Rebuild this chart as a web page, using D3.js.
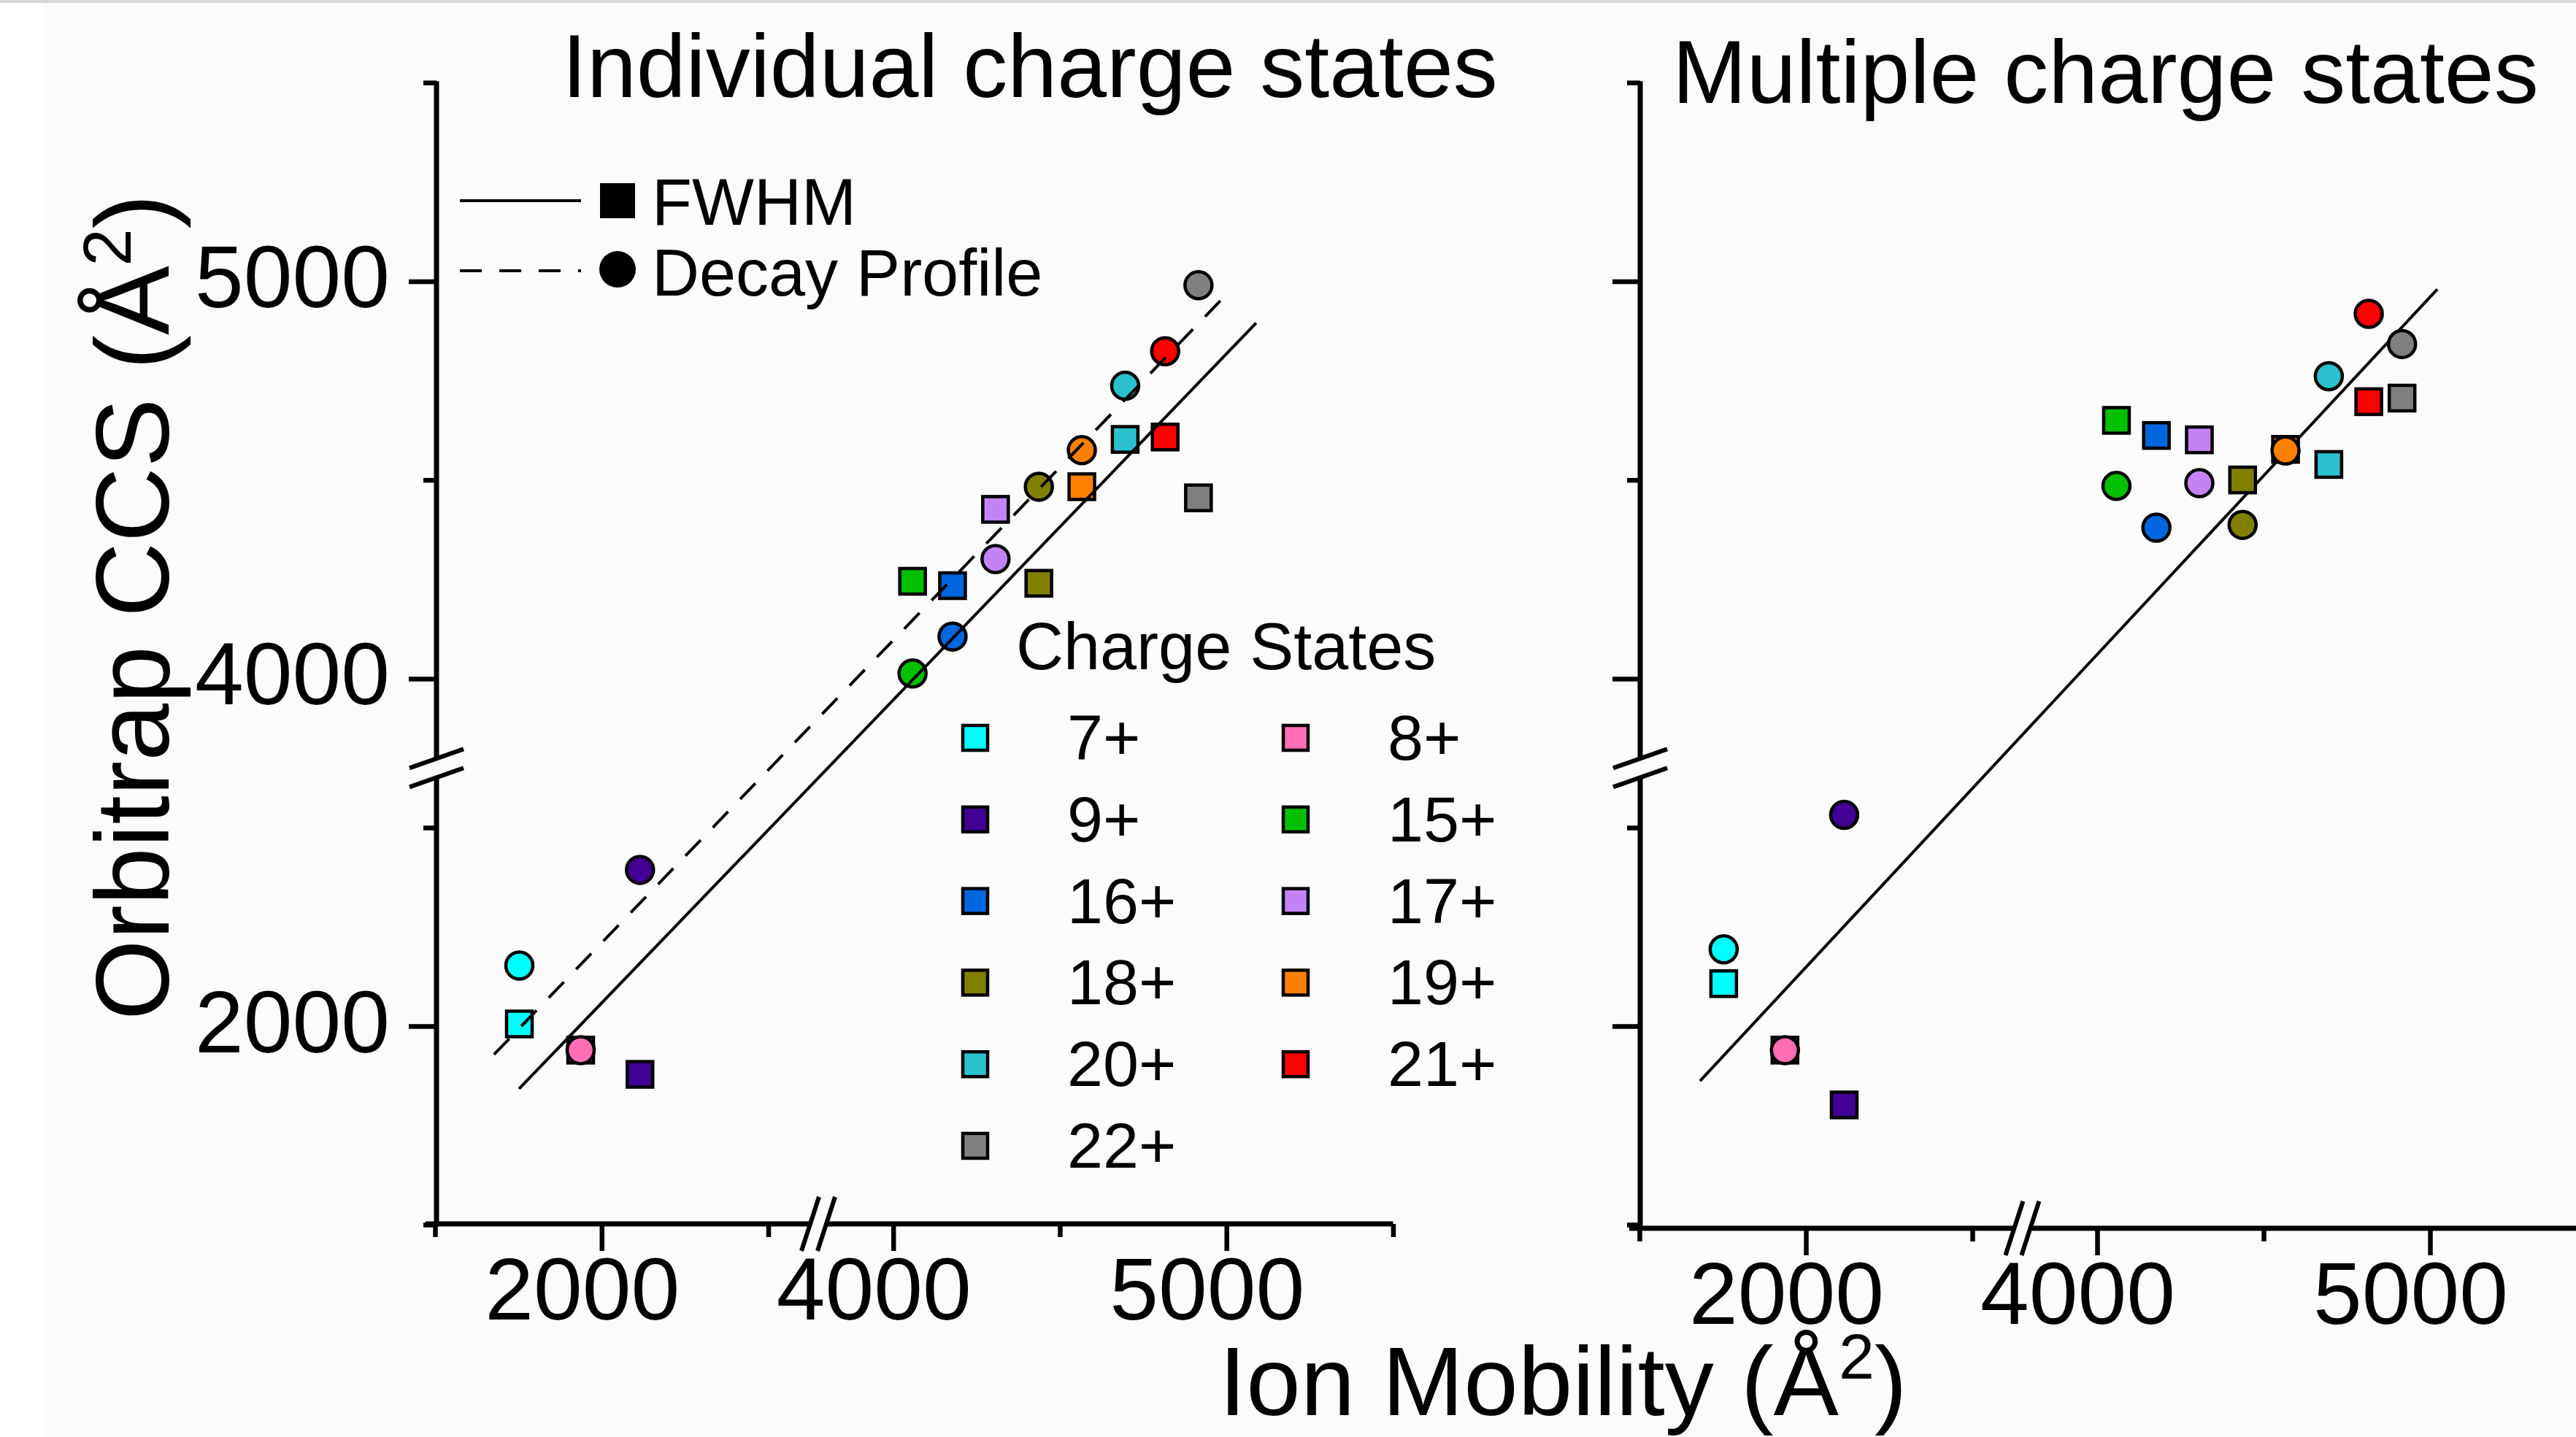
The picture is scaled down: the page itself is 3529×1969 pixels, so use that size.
<!DOCTYPE html>
<html>
<head>
<meta charset="utf-8">
<script src="https://cdn.jsdelivr.net/npm/d3@7"></script>
<style>
  html, body { margin: 0; padding: 0; background: #fff; }
  svg { display: block; font-family: "Liberation Sans", Arial, sans-serif; }
</style>
</head>
<body>
<svg id="chart" width="3529" height="1969"></svg>
<script>
// charge states and their colours (same in both panels)
var chargeStates = ["7+", "8+", "9+", "15+", "16+", "17+", "18+", "19+", "20+", "21+", "22+"];
var stateColors = ["#00ffff", "#ff6eb4", "#420094", "#00c000", "#0066dd", "#c383f5",
                   "#808000", "#ff8000", "#29c2cc", "#ff0000", "#808080"];

// ion mobility CCS (x), shared by all series
var ionMobility = [1753, 1937, 2115, 4058, 4178, 4307, 4437, 4566, 4696, 4816, 4916];

// orbitrap CCS (y)
var individualFwhm  = [2011, 1879, 1757, 4245, 4234, 4426, 4240, 4483, 4602, 4608, 4455];
var individualDecay = [2305, 1879, 2787, 4013, 4106, 4301, 4483, 4575, 4737, 4824, 4990];
var multipleFwhm    = [2214, 1879, 1603, 4650, 4612, 4601, 4500, 4577, 4539, 4697, 4706];
var multipleDecay   = [2387, 1879, 3064, 4485, 4380, 4492, 4387, 4574, 4761, 4918, 4842];

// fit lines, start and end points [ion mobility, orbitrap CCS]
var individualFwhmFit  = [[1752, 1684], [5089, 4895]];
var individualDecayFit = [[1677, 1857], [4991, 4959]];
var multipleFit        = [[1682, 1724], [5022, 4980]];

// axes
var xMajorTicks = [2000, 4000, 5000];
var xMinorTicks = [1500, 2500, 4500, 5500];
var yMajorTicks = [2000, 4000, 5000];
var yMinorTicks = [1000, 3000, 4500, 5500];
var xBreak = [2650, 3775];
var yBreak = [3300, 3775];

var W = 3529, H = 1969;
var svg = d3.select("svg#chart");

svg.append("rect").attr("width", W).attr("height", H).attr("fill", "#fbfbfb");
svg.append("rect").attr("width", 62).attr("height", H).attr("fill", "#ffffff");
svg.append("rect").attr("width", W).attr("height", 4).attr("fill", "#d6d6d6");

/* Broken linear scale: a lower and an upper d3 segment glued at the break.
   sign = 1 for x (grows right), -1 for y (grows up) */
function brokenScale(lo, hi, brk, start, kLo, kHi, sign){
  var sLo = d3.scaleLinear().domain([lo, brk[0]])
    .range([start, start + sign * (brk[0] - lo) * kLo]);
  var b = sLo(brk[0]);
  var sHi = d3.scaleLinear().domain([brk[1], hi])
    .range([b, b + sign * (hi - brk[1]) * kHi]);
  var s = function(v){ return v <= brk[0] ? sLo(v) : sHi(v); };
  s.lo = sLo;
  s.hi = sHi;
  s.breakPos = b;
  return s;
}

var yScale = brokenScale(1000, 5500, yBreak, 1678, 0.272, 0.5445, -1);

var panels = [
  {
    name: "individual",
    title: "Individual charge states", titleX: 770, titleY: 133,
    x: brokenScale(1500, 5500, xBreak, 596, 0.4565, 0.4565, 1),
    axisX: 598, axisY: 1677, yLabels: true,
    fwhm: individualFwhm, decay: individualDecay,
    fits: [{pts: individualFwhmFit, dash: null}, {pts: individualDecayFit, dash: "30,24"}],
    fitsOnTop: true
  },
  {
    name: "multiple",
    title: "Multiple charge states", titleX: 2291, titleY: 141,
    x: brokenScale(1500, 5500, xBreak, 2246, 0.456, 0.456, 1),
    axisX: 2247, axisY: 1683, yLabels: false,
    fwhm: multipleFwhm, decay: multipleDecay,
    fits: [{pts: multipleFit, dash: null}],
    fitsOnTop: false
  }
];

function styleAxis(sel, size){
  sel.select(".domain").remove();
  sel.attr("font-family", null).attr("font-size", size);
  sel.selectAll(".tick line").attr("stroke", "#000").attr("stroke-width", 6.5);
  sel.selectAll(".tick text").attr("fill", "#000");
}

function drawAxes(p){
  var g = svg.append("g").attr("class", "axes-" + p.name);
  var xEnd = p.x.hi.range()[1];
  var yTop = yScale.hi.range()[1];

  // x axis, one d3 axis per segment
  [p.x.lo, p.x.hi].forEach(function(seg){
    var dom = seg.domain();
    var inSeg = function(v){ return v >= dom[0] && v <= dom[1]; };
    g.append("g").attr("transform", "translate(0," + p.axisY + ")")
      .call(d3.axisBottom(seg).tickValues(xMinorTicks.filter(inSeg))
        .tickSize(18).tickSizeOuter(0).tickFormat(""))
      .call(styleAxis, 120);
    g.append("g").attr("transform", "translate(0," + p.axisY + ")")
      .call(d3.axisBottom(seg).tickValues(xMajorTicks.filter(inSeg))
        .tickSize(37).tickSizeOuter(0).tickFormat(d3.format("d")))
      .call(styleAxis, 120)
      .selectAll(".tick text")
        .attr("x", -27).attr("y", 131).attr("dy", null);
  });

  // y axis
  [yScale.lo, yScale.hi].forEach(function(seg){
    var dom = seg.domain();
    var inSeg = function(v){ return v >= dom[0] && v <= dom[1]; };
    g.append("g").attr("transform", "translate(" + p.axisX + ",0)")
      .call(d3.axisLeft(seg).tickValues(yMinorTicks.filter(inSeg))
        .tickSize(18).tickSizeOuter(0).tickFormat(""))
      .call(styleAxis, 120);
    g.append("g").attr("transform", "translate(" + p.axisX + ",0)")
      .call(d3.axisLeft(seg).tickValues(yMajorTicks.filter(inSeg))
        .tickSize(38).tickSizeOuter(0).tickFormat(p.yLabels ? d3.format("d") : ""))
      .call(styleAxis, 120)
      .selectAll(".tick text")
        .attr("x", -64).attr("y", 35).attr("dy", null);
  });

  // axis lines with a gap at the breaks
  var bx = p.x.breakPos, by = yScale.breakPos;
  var axisLines = [
    [p.axisX - 15, p.axisY, bx - 11, p.axisY],
    [bx + 11, p.axisY, xEnd, p.axisY],
    [p.axisX, p.axisY, p.axisX, by + 13],
    [p.axisX, by - 13, p.axisX, yTop - 2]
  ];
  g.selectAll("line.axisLine").data(axisLines).enter().append("line")
    .attr("class", "axisLine")
    .attr("x1", d => d[0]).attr("y1", d => d[1])
    .attr("x2", d => d[2]).attr("y2", d => d[3])
    .attr("stroke", "#000").attr("stroke-width", 7);

  // break marks
  var marks = [
    [bx - 11 + 12, p.axisY - 37, bx - 11 - 12, p.axisY + 37],
    [bx + 11 + 12, p.axisY - 37, bx + 11 - 12, p.axisY + 37],
    [p.axisX - 37, by - 13 + 13, p.axisX + 37, by - 13 - 13],
    [p.axisX - 37, by + 13 + 13, p.axisX + 37, by + 13 - 13]
  ];
  g.selectAll("line.breakMark").data(marks).enter().append("line")
    .attr("class", "breakMark")
    .attr("x1", d => d[0]).attr("y1", d => d[1])
    .attr("x2", d => d[2]).attr("y2", d => d[3])
    .attr("stroke", "#000").attr("stroke-width", 6);
}

function drawFits(g, p){
  var line = d3.line().x(d => p.x(d[0])).y(d => yScale(d[1]));
  p.fits.forEach(function(f){
    g.append("path")
      .attr("d", line(f.pts))
      .attr("fill", "none")
      .attr("stroke", "#000")
      .attr("stroke-width", 4)
      .attr("stroke-dasharray", f.dash);
  });
}

function drawPanel(p){
  drawAxes(p);

  var g = svg.append("g").attr("class", "plot-" + p.name);
  var pts = chargeStates.map(function(s, i){
    return {state: s, color: stateColors[i], x: ionMobility[i], fwhm: p.fwhm[i], decay: p.decay[i]};
  });

  if(!p.fitsOnTop) drawFits(g, p);

  g.selectAll("rect.fwhm").data(pts).enter().append("rect")
    .attr("class", "fwhm")
    .attr("x", d => p.x(d.x) - 17.5)
    .attr("y", d => yScale(d.fwhm) - 17.5)
    .attr("width", 35).attr("height", 35)
    .attr("fill", d => d.color)
    .attr("stroke", "#000").attr("stroke-width", 4.5);

  g.selectAll("circle.decay").data(pts).enter().append("circle")
    .attr("class", "decay")
    .attr("cx", d => p.x(d.x))
    .attr("cy", d => yScale(d.decay))
    .attr("r", 18.5)
    .attr("fill", d => d.color)
    .attr("stroke", "#000").attr("stroke-width", 4.5);

  if(p.fitsOnTop) drawFits(g, p);

  svg.append("text")
    .attr("x", p.titleX).attr("y", p.titleY)
    .attr("font-size", 122)
    .text(p.title);
}

panels.forEach(drawPanel);

// legend: fit type
var legA = svg.append("g").attr("class", "legend-fit");
var fitLegend = [
  {label: "FWHM", dash: null, shape: "square", y: 275, textY: 308},
  {label: "Decay Profile", dash: "30,24", shape: "circle", y: 371, textY: 405}
];
fitLegend.forEach(function(d){
  legA.append("line")
    .attr("x1", 630).attr("x2", 796).attr("y1", d.y).attr("y2", d.y)
    .attr("stroke", "#000").attr("stroke-width", 4)
    .attr("stroke-dasharray", d.dash);
  if(d.shape === "square"){
    legA.append("rect").attr("x", 822).attr("y", d.y - 24).attr("width", 48).attr("height", 48)
      .attr("fill", "#000");
  } else {
    legA.append("circle").attr("cx", 846).attr("cy", d.y - 2).attr("r", 25).attr("fill", "#000");
  }
  legA.append("text").attr("x", 893).attr("y", d.textY)
    .attr("font-size", 90).text(d.label);
});

// legend: charge states (two columns)
var legB = svg.append("g").attr("class", "legend-states");
legB.append("text").attr("x", 1392).attr("y", 917).attr("font-size", 90).text("Charge States");
var legItems = legB.selectAll("g.item")
  .data(chargeStates.map((s, i) => ({state: s, color: stateColors[i], i: i})))
  .enter().append("g")
  .attr("class", "item")
  .attr("transform", d => "translate(" + (d.i % 2 === 0 ? 1336 : 1775) + "," + (1011 + Math.floor(d.i / 2) * 111.8) + ")");
legItems.append("rect")
  .attr("x", -17).attr("y", -17).attr("width", 34).attr("height", 34)
  .attr("fill", d => d.color)
  .attr("stroke", "#000").attr("stroke-width", 4.5);
legItems.append("text")
  .attr("x", 126).attr("y", 30)
  .attr("font-size", 88)
  .text(d => d.state);

// axis titles
var yTitle = svg.append("text")
  .attr("transform", "translate(231,832) rotate(-90)")
  .attr("text-anchor", "middle")
  .attr("font-size", 142);
yTitle.append("tspan").text("Orbitrap CCS (\u00C5");
yTitle.append("tspan").attr("font-size", 92).attr("dy", -52).text("2");
yTitle.append("tspan").attr("dy", 52).text(")");

var xTitle = svg.append("text")
  .attr("x", 1670).attr("y", 1939)
  .attr("font-size", 134);
xTitle.append("tspan").text("Ion Mobility (\u00C5");
xTitle.append("tspan").attr("font-size", 88).attr("dy", -50).text("2");
xTitle.append("tspan").attr("dy", 50).text(")");
</script>
</body>
</html>
